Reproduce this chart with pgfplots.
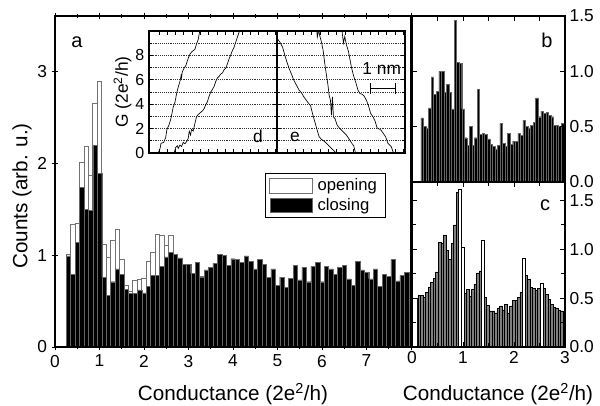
\documentclass[border=0pt]{standalone}
\usepackage{fontspec}
\setmainfont{Liberation Sans}
\usepackage{pgfplots}
\usepackage{pgfplotstable}
\pgfplotsset{compat=1.18}

\newcommand\fs[1]{\fontsize{#1}{#1}\selectfont}

% main histogram: bin centre, opening, closing
\pgfplotstableread{
x o c
0.3 1.01 0.99
0.4 1.33 0.79
0.5 1.34 1.14
0.6 2.01 1.74
0.7 2.18 1.50
0.8 1.87 1.49
0.9 2.65 2.19
1.0 2.89 1.89
1.1 1.12 0.76
1.2 0.97 0.56
1.3 1.16 0.71
1.4 1.28 0.85
1.5 0.95 0.79
1.6 0.67 0.63
1.7 0.60 0.58
1.8 0.72 0.58
1.9 0.74 0.62
2.0 0.75 0.59
2.1 0.93 0.66
2.2 1.03 0.78
2.3 1.23 0.78
2.4 1.21 0.88
2.5 1.10 0.98
2.6 1.21 1.03
2.7 1.00 1.01
2.8 0.92 0.97
2.9 0.82 0.90
3.0 0.75 0.90
3.1 0.66 0.80
3.2 0.74 0.92
3.3 0.77 0.76
3.4 0.76 0.84
3.5 0.78 0.87
3.6 0.80 0.91
3.7 0.82 1.01
3.8 0.80 1.00
3.9 0.79 0.89
4.0 0.74 0.96
4.1 0.72 0.95
4.2 0.73 0.92
4.3 0.70 0.99
4.4 0.72 0.93
4.5 0.69 0.85
4.6 0.66 0.95
4.7 0.68 0.90
4.8 0.62 0.76
4.9 0.64 0.85
5.0 0.60 0.67
5.1 0.62 0.76
5.2 0.58 0.65
5.3 0.60 0.75
5.4 0.62 0.89
5.5 0.59 0.73
5.6 0.58 0.87
5.7 0.62 0.71
5.8 0.57 0.88
5.9 0.61 0.92
6.0 0.63 0.71
6.1 0.60 0.88
6.2 0.57 0.85
6.3 0.62 0.79
6.4 0.60 0.87
6.5 0.56 0.89
6.6 0.61 0.74
6.7 0.58 0.67
6.8 0.60 0.93
6.9 0.55 0.84
7.0 0.61 0.81
7.1 0.57 0.74
7.2 0.59 0.85
7.3 0.62 0.66
7.4 0.56 0.79
7.5 0.60 0.77
7.6 0.58 0.95
7.7 0.55 0.72
7.8 0.60 0.78
7.9 0.57 0.81
8.0 0.60 0.78
}\mainhist

% panel b
\pgfplotstableread{
x y
0.20 0.58
0.25 0.50
0.30 0.49
0.35 0.67
0.40 0.95
0.45 0.79
0.50 0.82
0.55 1.00
0.60 1.00
0.65 0.81
0.70 0.88
0.75 0.81
0.80 0.66
0.85 1.46
0.90 1.08
0.95 1.07
1.00 0.66
1.05 0.40
1.10 0.33
1.15 0.50
1.20 0.33
1.25 0.40
1.30 0.84
1.35 0.43
1.40 0.44
1.45 0.43
1.50 0.39
1.55 0.34
1.60 0.32
1.65 0.30
1.70 0.33
1.75 0.53
1.80 0.35
1.85 0.32
1.90 0.44
1.95 0.34
2.00 0.37
2.05 0.37
2.10 0.44
2.15 0.42
2.20 0.56
2.25 0.50
2.30 0.49
2.35 0.51
2.40 0.54
2.45 0.76
2.50 0.59
2.55 0.64
2.60 0.62
2.65 0.63
2.70 0.60
2.75 0.59
2.80 0.51
2.85 0.51
2.90 0.50
2.95 0.53
3.00 0.52
}\histb

% panel c, grey bars
\pgfplotstableread{
x y
0.14 0.53
0.19 0.53
0.24 0.51
0.29 0.56
0.34 0.61
0.39 0.66
0.44 0.70
0.49 0.77
0.54 1.07
0.59 1.06
0.64 1.14
0.69 0.99
0.74 0.90
0.79 1.06
0.84 1.25
0.89 1.58
1.04 0.55
1.09 0.59
1.14 0.52
1.19 0.59
1.24 0.64
1.29 0.76
1.34 0.78
1.44 0.51
1.49 0.43
1.54 0.37
1.59 0.37
1.64 0.35
1.69 0.40
1.74 0.42
1.79 0.38
1.84 0.44
1.89 0.35
1.94 0.42
1.99 0.48
2.04 0.48
2.09 0.51
2.14 0.56
2.24 0.73
2.29 0.69
2.34 0.61
2.39 0.60
2.44 0.58
2.49 0.60
2.59 0.60
2.64 0.54
2.69 0.49
2.74 0.44
2.79 0.41
2.84 0.40
2.89 0.38
2.94 0.37
2.99 0.28
}\histcg

% panel c, white bars
\pgfplotstableread{
x y
0.94 1.62
0.99 1.02
1.39 1.09
2.19 0.91
2.54 0.65
}\histcw

\pgfplotsset{
  panel/.style={scale only axis, anchor=south west,
    axis line style={line width=0.9pt},
    every tick/.style={line width=0.7pt, black},
    /pgf/number format/assume math mode=true,
    ticklabel style={font=\fs{13}}},
  leg/.style={legend image code/.code={\draw[##1] (0pt,-5.5pt) rectangle (32pt,5.5pt);}},
  trace/.style={black, line width=0.5pt, mark=none},
}

\begin{document}
\begin{tikzpicture}
\useasboundingbox (0,0) rectangle (450pt,303.75pt);

% main panel a
\begin{axis}[panel, at={(41.25pt,43.5pt)}, width=267pt, height=248.25pt,
  xmin=0, xmax=8, ymin=0, ymax=3.6,
  xtick={0,...,8}, xticklabels={0,1,2,3,4,5,6,7,{}}, minor x tick num=1,
  ytick={0,1,2,3}, ytick pos=left,
  tick align=center, major tick length=5pt, minor tick length=3pt,
  axis on top,
  legend style={at={(0.59,0.526)}, anchor=north west, draw=black,
    line width=0.6pt, font=\fs{12.5}, inner xsep=3pt, inner ysep=2pt,
    row sep=0pt, cells={anchor=west},
    nodes={inner xsep=3.5pt}},
]
\addplot[ybar, bar width=0.1, bar shift=0pt, fill=white, draw=black!55,
  line width=0.6pt, leg] table[x=x, y=o] {\mainhist};
\addplot[ybar, bar width=0.1, bar shift=0pt, fill=black, draw=black!60,
  line width=0.3pt, leg] table[x=x, y=c] {\mainhist};
\legend{opening, closing}
\end{axis}

% panel b
\begin{axis}[panel, at={(309pt,167.25pt)}, width=114.75pt, height=124.5pt,
  xmin=0, xmax=3, ymin=0, ymax=1.5,
  xtick={0,0.5,1,1.5,2,2.5,3}, xticklabels={},
  ytick={0,0.5,1,1.5}, yticklabels={0.0,0.5,1.0,1.5}, yticklabel pos=right,
  tick align=inside, major tick length=4pt, axis on top,
]
\addplot[ybar, bar width=0.05, bar shift=0pt, fill=black, draw=black!60,
  line width=0.3pt] table[x=x, y=y] {\histb};
\end{axis}

% panel c
\begin{axis}[panel, at={(309pt,43.5pt)}, width=114.75pt, height=123.75pt,
  xmin=0, xmax=3, ymin=0, ymax=1.69,
  xtick={0,1,2,3}, minor x tick num=1,
  ytick={0,0.5,1,1.5}, yticklabels={0.0,0.5,1.0,1.5}, yticklabel pos=right,
  minor y tick num=1,
  tick align=inside, major tick length=4pt, minor tick length=3pt, axis on top,
]
\addplot[ybar, bar width=0.1, bar shift=0pt, fill=white, draw=black,
  line width=0.5pt] coordinates {(0.05,0.50)};
\addplot[ybar, bar width=0.05, bar shift=0pt, fill=black!50, draw=black,
  line width=0.4pt] table[x=x, y=y] {\histcg};
\addplot[ybar, bar width=0.05, bar shift=0pt, fill=white, draw=black,
  line width=0.4pt] table[x=x, y=y] {\histcw};
\end{axis}

% inset d
\begin{axis}[panel, at={(111.75pt,189pt)}, width=96pt, height=91.5pt,
  xmin=-1.2, xmax=14.2, ymin=0, ymax=10,
  xtick={0,...,14}, xticklabels={},
  ytick={0,2,4,6,8}, minor ytick={1,3,5,7,9},
  ymajorgrids, yminorgrids, grid style={densely dotted, line width=0.5pt, black!80},
  tick align=inside, major tick length=3pt, minor tick length=2pt,
  axis line style={line width=0.8pt},
  ticklabel style={font=\fs{12}},
  ylabel={G (2e\textsuperscript{2}/h)}, ylabel style={font=\fs{13}, yshift=-4pt},
  axis background/.style={fill=white},
]
\addplot[trace] coordinates {(-0.4,0) (-0.08,0.03) (0.12,0.33) (0.24,0.79)
  (0.56,0.87) (0.80,1.25) (0.96,1.93) (1.20,2.29) (1.44,2.83) (1.72,3.78)
  (1.92,4.14) (2.16,5.01) (2.36,5.50) (2.56,5.96) (2.66,6.35) (2.72,6.15)
  (2.80,6.64) (3.04,6.97) (3.24,7.18) (3.52,7.78) (3.76,8.14) (4.00,8.33)
  (4.32,8.49) (4.52,8.95) (4.72,9.31) (4.88,9.90) (4.96,10.3)};
\addplot[trace] coordinates {(1.5,0) (1.84,0.03) (2.00,0.44) (2.20,0.60)
  (2.32,0.38) (2.52,0.65) (2.72,0.54) (2.92,0.87) (3.12,0.76) (3.32,0.93)
  (3.52,1.20) (3.64,1.80) (3.80,1.47) (3.92,1.93) (4.12,1.80) (4.32,2.42)
  (4.52,2.97) (4.72,3.16) (5.00,3.32) (5.24,3.46) (5.44,3.65) (5.64,3.97)
  (5.84,4.24) (6.04,4.68) (6.24,5.01) (6.44,5.22) (6.64,5.47) (6.84,5.88)
  (7.04,6.15) (7.24,6.29) (7.44,6.48) (7.64,6.56) (7.84,6.83) (8.04,6.97)
  (8.24,7.32) (8.44,7.73) (8.64,8.05) (8.84,8.41) (9.04,8.68) (9.24,9.09)
  (9.44,9.50) (9.64,9.90) (9.76,10.3)};
\node[font=\fs{13}] at (axis cs:11.9,1.35) {d};
\end{axis}

% inset e
\begin{axis}[panel, at={(207.75pt,189pt)}, width=96pt, height=91.5pt,
  xmin=-1.2, xmax=14.2, ymin=0, ymax=10,
  xtick={0,...,14}, xticklabels={},
  ytick={0,2,4,6,8}, minor ytick={1,3,5,7,9}, yticklabels={},
  ymajorgrids, yminorgrids, grid style={densely dotted, line width=0.5pt, black!80},
  tick align=inside, major tick length=3pt, minor tick length=2pt,
  axis line style={line width=0.8pt},
  axis background/.style={fill=white},
]
\addplot[trace] coordinates {(-1.2,9.4) (-0.85,9.09) (-0.53,8.68) (-0.25,8.00)
  (-0.01,7.46) (0.27,6.91) (0.55,6.45) (0.83,5.96) (1.15,5.55) (1.47,5.14)
  (1.75,4.93) (2.03,4.60) (2.27,4.38) (2.55,4.11) (2.83,3.89) (3.07,3.24)
  (3.35,2.56) (3.63,1.88) (3.87,1.33) (4.15,1.12) (4.55,0.93) (4.95,0.65)
  (5.35,0.38) (5.75,0.11) (5.95,0)};
\addplot[trace] coordinates {(3.55,10.3) (3.65,9.5) (3.80,10.1) (3.95,9.6)
  (4.15,9.09) (4.35,8.41) (4.55,7.32) (4.75,6.37) (4.95,5.47) (5.07,4.73)
  (5.23,4.33) (5.35,3.10) (5.47,4.60) (5.59,2.97) (5.79,2.80) (6.03,2.29)
  (6.35,2.01) (6.75,1.74) (7.15,1.47) (7.55,1.06) (7.87,0.73) (8.03,0.60)
  (8.15,0.24) (8.27,0)};
\addplot[trace] coordinates {(6.55,10.3) (6.63,9.96) (6.79,9.01) (6.95,9.55)
  (7.15,8.87) (7.39,8.35) (7.75,7.05) (8.03,6.29) (8.27,5.80) (8.55,5.14)
  (8.79,4.87) (9.03,4.82) (9.27,4.68) (9.55,4.33) (9.79,3.92) (10.07,3.24)
  (10.35,2.97) (10.59,2.64) (10.83,2.07) (11.31,1.88) (11.87,1.33)
  (12.15,0.79) (12.55,0.52) (12.75,0.11) (12.87,0)};
\draw[line width=0.6pt] (axis cs:10,5.3) -- (axis cs:13,5.3);
\draw[line width=0.6pt] (axis cs:10,4.85) -- (axis cs:10,5.75);
\draw[line width=0.6pt] (axis cs:13,4.85) -- (axis cs:13,5.75);
\node[font=\fs{13}] at (axis cs:11.4,6.9) {1 nm};
\node[font=\fs{13}] at (axis cs:0.96,1.35) {e};
\end{axis}

% panel letters and axis titles
\node[font=\fs{15}] at (57.75pt,272.25pt) {a};
\node[font=\fs{15}] at (410.25pt,273.75pt) {b};
\node[font=\fs{15}] at (408.75pt,150pt) {c};
\node[font=\fs{15.5}, rotate=90] at (16.5pt,156.75pt) {Counts (arb. u.)};
\node[font=\fs{15.5}] at (174.75pt,8.5pt) {Conductance (2e\textsuperscript{2}/h)};
\node[font=\fs{15.5}] at (373.5pt,8.5pt) {Conductance (2e\textsuperscript{2}/h)};
\end{tikzpicture}
\end{document}
